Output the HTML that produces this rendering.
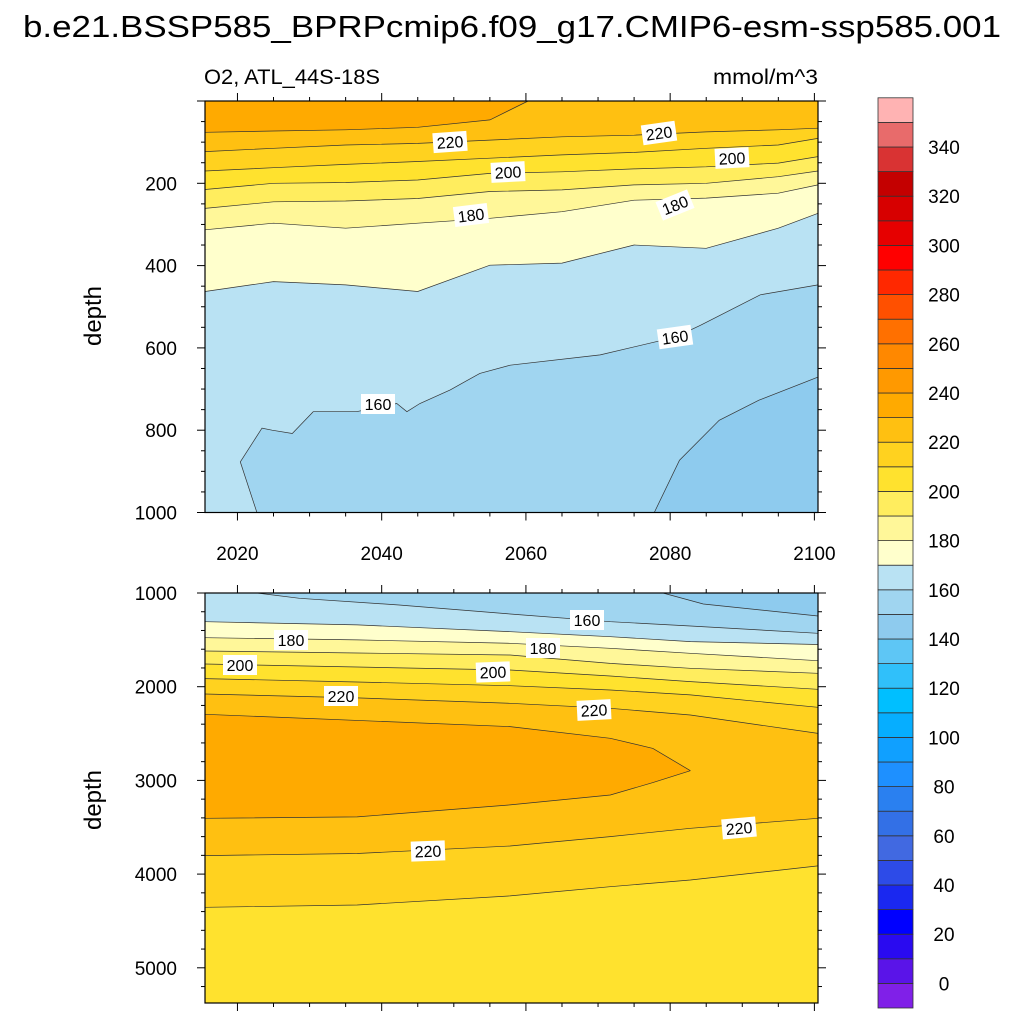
<!DOCTYPE html>
<html><head><meta charset="utf-8"><style>
html,body{margin:0;padding:0;background:#fff;}
svg{display:block;font-family:"Liberation Sans",Arial,sans-serif;}
</style></head><body>
<svg id="chart" width="1024" height="1024" viewBox="0 0 1024 1024">
<text x="512" y="37" font-size="31" text-anchor="middle" textLength="978" lengthAdjust="spacingAndGlyphs">b.e21.BSSP585_BPRPcmip6.f09_g17.CMIP6-esm-ssp585.001</text>
<text x="204" y="84" font-size="21" textLength="176" lengthAdjust="spacingAndGlyphs">O2, ATL_44S-18S</text>
<text x="818" y="84" font-size="21" text-anchor="end" textLength="105" lengthAdjust="spacingAndGlyphs">mmol/m^3</text>
<text transform="translate(101,316) rotate(-90)" font-size="24" text-anchor="middle">depth</text>
<text transform="translate(101,800) rotate(-90)" font-size="24" text-anchor="middle">depth</text>
<g id="topPanel"></g>
<g id="botPanel"></g>
<g id="cbar"></g>
</svg>
<script>
// colour levels (band i spans levels[i-1]..levels[i])
const levels = [0,10,20,30,40,50,60,70,80,90,100,110,120,130,140,150,160,170,180,190,200,210,220,230,240,250,260,270,280,290,300,310,320,330,340,350];
const colors = ["#8020E8","#5A14E8","#2A0AF0","#0000FF","#1A28F0","#2D4BE8","#4169E1","#3370E6","#2A80F0","#1E90FF","#10A0FF","#06AEFF","#00BFFF","#30C0FA","#5EC6F5","#8ECBEE","#A0D5F0","#B9E2F3","#FFFFCC","#FFF799","#FFED5E","#FFE22E","#FFD21F","#FFC011","#FFAA00","#FF9900","#FF8800","#FF7000","#FF5000","#FF2800","#FF0000","#E60000","#D70000","#C40000","#D93333","#E86B6B","#FFB3B3"];
const cbarLabels = [0,20,40,60,80,100,120,140,160,180,200,220,240,260,280,300,320,340];
const xTicks = [2020,2040,2060,2080,2100];
const yTicksTop = [200,400,600,800,1000];
const yTicksBot = [1000,2000,3000,4000,5000];

// top panel contours (years, depths in m)
const t230Yr=[2015.5,2025,2035,2045,2055,2060.3]; const t230D=[76,73,70,64,46,0];
const t220Yr=[2015.5,2025,2035,2045,2055,2065,2075,2085,2095,2100.5]; const t220D=[123,115,107,103,95,87,83,75,70,66];
const t210D=[170,162,154,147,139,131,125,115,107,91];
const t200D=[215,200,198,192,176,172,165,160,151,135];
const t190D=[261,245,243,237,220,216,204,200,184,170];
const t180D=[313,297,309,297,285,269,241,236,224,204];
const t170D=[463,439,447,463,399,394,350,358,309,273];
const t160Yr=[2022.7,2020.4,2023.4,2024.8,2027.6,2030.5,2036.5,2042.1,2043.5,2045.3,2049.5,2053.6,2057.8,2070.3,2080.7,2084.2,2092.5,2100.5];
const t160D=[1000,877,795,800,808,755,755,735,755,735,702,662,642,617,574,545,471,447];
const t150Yr=[2077.8,2081.3,2086.8,2092.3,2100.5]; const t150D=[1000,873,776,727,671];

// bottom panel contours
const bYr=[2015.5,2036.6,2057.8,2071.7,2082.8,2100.5];
const b150Yr=[2079,2084.6,2100.5]; const b150D=[1000,1117,1245];
const b160Yr=[2022.7,2028.6,2042.4,2057.8,2071.7,2082.8,2100.5]; const b160D=[1000,1057,1128,1224,1306,1352,1430];
const b170D=[1306,1340,1413,1466,1519,1550];
const b180D=[1477,1500,1537,1590,1644,1722];
const b190D=[1619,1640,1662,1751,1804,1857];
const b200D=[1758,1790,1822,1886,1946,2028];
const b210D=[1914,1950,1989,2035,2088,2220];
const b220D=[2078,2120,2177,2231,2302,2498];
const b230UYr=[2015.5,2057.8,2071.7,2077.6,2082.8]; const b230UD=[2295,2426,2551,2658,2896];
const b230LYr=[2015.5,2036.6,2057.8,2071.7,2077.6,2082.8]; const b230LD=[3405,3390,3262,3156,3024,2896];
const b220LD=[3803,3780,3700,3600,3511,3405];
const b210LD=[4354,4330,4233,4134,4063,3913];

const NS="http://www.w3.org/2000/svg";
const X0=205,X1=818,YR0=2015.5,YR1=2100.5;
const X=yr=>X0+(yr-YR0)*(X1-X0)/(YR1-YR0);
const YT=d=>101+d*0.4115;
const BOTMAX=5377;
const YB=d=>593+(d-1000)*0.0937;
const col=v=>colors[levels.filter(l=>l<=v).length];
function mk(tag,parent,attrs){const e=document.createElementNS(NS,tag);for(const k in attrs)e.setAttribute(k,attrs[k]);parent.appendChild(e);return e;}
function pts(yrs,ds,Y){return yrs.map((y,i)=>X(y).toFixed(1)+","+Y(ds[i]).toFixed(1));}

function fillPoly(g,p,fill,name){const e=mk("polygon",g,{points:p.join(" "),fill:fill});

}
function line(g,yrs,ds,Y,name){const e=mk("polyline",g,{points:pts(yrs,ds,Y).join(" "),fill:"none",stroke:"#333","stroke-width":"0.7"});

}

const topG=document.getElementById("topPanel");
fillPoly(topG,[X(YR0)+","+YT(0),X(YR1)+","+YT(0),X(YR1)+","+YT(1000),X(YR0)+","+YT(1000)],col(225),"band-220-230");
fillPoly(topG,[X(YR0)+","+YT(0)].concat(pts(t230Yr,t230D,YT)),col(235),"band-230-240");
const tb=[[t220D,215],[t210D,205],[t200D,195],[t190D,185],[t180D,175],[t170D,165]];
tb.forEach(([d,v])=>fillPoly(topG,pts(t220Yr,d,YT).concat([X(YR1)+","+YT(1000),X(YR0)+","+YT(1000)]),col(v),"band-"+(v-5)+"-"+(v+5)));
fillPoly(topG,pts(t160Yr,t160D,YT).concat([X(YR1)+","+YT(1000)]),col(155),"band-150-160");
fillPoly(topG,pts(t150Yr,t150D,YT).concat([X(YR1)+","+YT(1000)]),col(145),"band-140-150");
line(topG,t230Yr,t230D,YT,"contour-230");
[t220D,t210D,t200D,t190D,t180D,t170D].forEach((d,i)=>line(topG,t220Yr,d,YT,"contour-"+(220-10*i)));
line(topG,t160Yr,t160D,YT,"contour-160");
line(topG,t150Yr,t150D,YT,"contour-150");

const botG=document.getElementById("botPanel");
fillPoly(botG,[X(YR0)+","+YB(1000),X(YR1)+","+YB(1000),X(YR1)+","+YB(BOTMAX),X(YR0)+","+YB(BOTMAX)],col(205),"band-200-210");
const above=(yrs,d)=>pts(yrs,d,YB).concat([X(YR1)+","+YB(1000),X(YR0)+","+YB(1000)]);
fillPoly(botG,above(bYr,b210LD),col(215),"band-210-220-lower");
fillPoly(botG,above(bYr,b220LD),col(225),"band-220-230-lower");
fillPoly(botG,above(bYr,b220D),col(215),"band-210-220");
fillPoly(botG,above(bYr,b210D),col(205),"band-200-210-upper");
fillPoly(botG,above(bYr,b200D),col(195),"band-190-200");
fillPoly(botG,above(bYr,b190D),col(185),"band-180-190");
fillPoly(botG,above(bYr,b180D),col(175),"band-170-180");
fillPoly(botG,above(bYr,b170D),col(165),"band-160-170");
fillPoly(botG,pts(b160Yr,b160D,YB).concat([X(YR1)+","+YB(1000)]),col(155),"band-150-160");
fillPoly(botG,pts(b150Yr,b150D,YB).concat([X(YR1)+","+YB(1000)]),col(145),"band-140-150");
fillPoly(botG,pts(b230UYr,b230UD,YB).concat(pts(b230LYr.slice().reverse(),b230LD.slice().reverse(),YB)),col(235),"band-230-240");
line(botG,b150Yr,b150D,YB,"contour-150");
line(botG,b160Yr,b160D,YB,"contour-160");
[b170D,b180D,b190D,b200D,b210D,b220D,b220LD,b210LD].forEach((d,i)=>line(botG,bYr,d,YB,"contour-line-"+i));
line(botG,b230UYr,b230UD,YB,"contour-230-upper");
line(botG,b230LYr,b230LD,YB,"contour-230-lower");

const ch=document.getElementById("chart");
function lab(x,y,t,rot){const g=mk("g",ch,{transform:`translate(${x},${y}) rotate(${rot||0})`});


mk("rect",g,{x:-17,y:-10,width:34,height:20,fill:"#fff"});
const tx=mk("text",g,{x:0,y:6,"font-size":"16","text-anchor":"middle"});tx.textContent=t;}
[[450,142,"220",-4],[659,133,"220",-8],[508,172,"200",-3],[732,158,"200",-3],[471,215,"180",-7],[675,205,"180",-22],[378,404,"160",0],[675,337,"160",-8],
 [587,620,"160",0],[291,640,"180",0],[543,648,"180",0],[240,665,"200",0],[493,672,"200",-2],[341,696,"220",0],[594,710,"220",-3],[739,828,"220",-5],[428,851,"220",-2]].forEach(a=>lab(...a));

function frame(y0,y1,yt,Y,minorStep,maxD,minD,nameP){
 const r=mk("rect",ch,{x:X0,y:y0,width:X1-X0,height:y1-y0,fill:"none",stroke:"#000","stroke-width":"1.2"});
 
 
 for(let yr=2020;yr<=2100;yr+=5){const x=X(yr),L=yr%20===0?8:4;
  mk("line",ch,{x1:x,x2:x,y1:y0,y2:y0-L,stroke:"#000","stroke-width":"1"});
  mk("line",ch,{x1:x,x2:x,y1:y1,y2:y1+L,stroke:"#000","stroke-width":"1"});}
 for(let d=minD;d<=maxD;d+=minorStep){const y=Y(d);if(y<y0-0.5||y>y1+0.5)continue;const L=d%yt===0?8:4;
  mk("line",ch,{x1:X0,x2:X0-L,y1:y,y2:y,stroke:"#000","stroke-width":"1"});
  mk("line",ch,{x1:X1,x2:X1+L,y1:y,y2:y,stroke:"#000","stroke-width":"1"});}
}
frame(101,512.5,200,YT,50,1000,0,"top-panel");
frame(593,1003,1000,YB,200,5400,1000,"bottom-panel");
yTicksTop.forEach(d=>{const t=mk("text",ch,{x:177,y:YT(d)+7,"font-size":"19","text-anchor":"end"});t.textContent=d;

});
yTicksBot.forEach(d=>{const t=mk("text",ch,{x:177,y:YB(d)+7,"font-size":"19","text-anchor":"end"});t.textContent=d;

});
xTicks.forEach(yr=>{const t=mk("text",ch,{x:X(yr),y:560,"font-size":"19","text-anchor":"middle"});t.textContent=yr;

});

const cb=document.getElementById("cbar");
const CB0=1008,BH=24.6;
colors.forEach((c,i)=>{const r=mk("rect",cb,{x:878,y:CB0-(i+1)*BH,width:35,height:BH,fill:c,stroke:"#333","stroke-width":"0.8"});

});
cbarLabels.forEach(v=>{const i=levels.indexOf(v);const t=mk("text",cb,{x:944,y:CB0-(i+1)*BH+7,"font-size":"19","text-anchor":"middle"});t.textContent=v;

});
</script>
</body></html>
